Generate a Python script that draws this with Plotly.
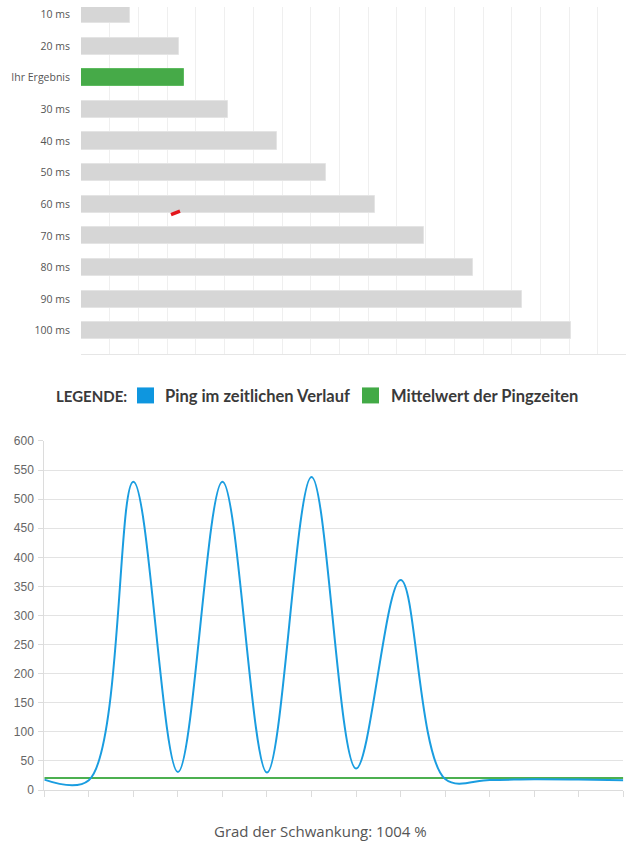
import plotly.graph_objects as go

# ---------------- data ----------------
bar_categories = ["10 ms", "20 ms", "Ihr Ergebnis", "30 ms", "40 ms", "50 ms",
                  "60 ms", "70 ms", "80 ms", "90 ms", "100 ms"]
bar_values = [10, 20, 21.1, 30, 40, 50, 60, 70, 80, 90, 100]
bar_highlight = "Ihr Ergebnis"

ping_x = list(range(14))
ping_values = [18, 17, 530, 31, 530, 30, 538, 37, 361, 19, 17.5, 18.5, 18, 17]
mean_value = 20.6
mean_values = [mean_value for _ in ping_x]
y_ticks = [0, 50, 100, 150, 200, 250, 300, 350, 400, 450, 500, 550, 600]

legend_title = "LEGENDE:"
legend_ping = "Ping im zeitlichen Verlauf"
legend_mean = "Mittelwert der Pingzeiten"
footer_text = "Grad der Schwankung: 1004 %"

# ---------------- helpers (page pixels -> paper) ----------------
W, H = 641, 853
Y_OFF, Y_SCALE = 5.9, 0.984   # empirical correction of the photographed page

def px(x):
    return x / W

def yint(y):
    return (y - Y_OFF) / Y_SCALE

def py(y):
    return 1 - yint(y) / H

BLUE = "#1a9de0"
GREEN = "#46aa48"

fig = go.Figure()

bar_colors = [GREEN if c == bar_highlight else "#d6d6d6" for c in bar_categories]
bar_lines = ["#5dbb5f" if c == bar_highlight else "#e4e4e4" for c in bar_categories]
fig.add_trace(go.Bar(
    y=bar_categories, x=bar_values, orientation="h",
    marker=dict(color=bar_colors, line=dict(color=bar_lines, width=1)),
    width=0.54, xaxis="x", yaxis="y", hoverinfo="skip", showlegend=False,
))

fig.add_trace(go.Scatter(
    x=ping_x, y=mean_values, mode="lines",
    line=dict(color="#4cb050", width=2),
    xaxis="x2", yaxis="y2", showlegend=False, name=legend_mean,
))
fig.add_trace(go.Scatter(
    x=ping_x, y=ping_values, mode="lines",
    line=dict(color=BLUE, width=2, shape="spline", smoothing=1.0),
    xaxis="x2", yaxis="y2", showlegend=False, name=legend_ping,
))

legend_font = dict(family="Lato, Liberation Sans, sans-serif", size=16.5, color="#3a3a3a")
legend_title_font = dict(family="Lato, Liberation Sans, sans-serif", size=15, color="#3a3a3a")

annotations = [
    dict(text="<b>" + legend_title + "</b>", x=px(54), y=py(395), xref="paper", yref="paper",
         xanchor="left", yanchor="middle", showarrow=False, font=legend_title_font),
    dict(text="<b>" + legend_ping + "</b>", x=px(163), y=py(395), xref="paper", yref="paper",
         xanchor="left", yanchor="middle", showarrow=False, font=legend_font),
    dict(text="<b>" + legend_mean + "</b>", x=px(389), y=py(395), xref="paper", yref="paper",
         xanchor="left", yanchor="middle", showarrow=False, font=legend_font),
    dict(text=footer_text, x=px(320), y=py(830), xref="paper", yref="paper",
         xanchor="center", yanchor="middle", showarrow=False,
         font=dict(family="Open Sans", size=15, color="#555555")),
]

shapes = [
    dict(type="rect", xref="paper", yref="paper", x0=px(137), x1=px(154), y0=py(402.5), y1=py(386.5),
         fillcolor="#0e96df", line=dict(width=0)),
    dict(type="rect", xref="paper", yref="paper", x0=px(362), x1=px(379), y0=py(402.5), y1=py(386.5),
         fillcolor="#42aa46", line=dict(width=0)),
    dict(type="line", xref="paper", yref="paper", x0=px(171), x1=px(180), y0=py(213.5), y1=py(210),
         line=dict(color="#e3161c", width=3.5)),
]

# top chart: category centres at 13.5 + k*31.62 px (reference), bottom line at 352.7 px
top_bottom = yint(352.7)
first_centre = yint(13.5)
band = yint(13.5 + 31.62) - first_centre
top_range = [(top_bottom - first_centre) / band, -first_centre / band]

fig.update_layout(
    width=W, height=H,
    margin=dict(l=0, r=0, t=0, b=0),
    paper_bgcolor="white", plot_bgcolor="white",
    showlegend=False,
    bargap=0,
    xaxis=dict(domain=[px(81), px(626)], range=[0, 111.2], tick0=0, dtick=5.86,
               showticklabels=False, ticks="", showgrid=True, gridcolor="#efefef",
               zeroline=False, showline=True, linecolor="#e6e6e6", anchor="y", fixedrange=True),
    yaxis=dict(domain=[1 - top_bottom / H, 1], type="category", range=top_range,
               showgrid=False, zeroline=False, showline=False, ticks="",
               ticklabelstandoff=10,
               tickfont=dict(family="Open Sans", size=10.5, color="#555555"),
               anchor="x", fixedrange=True),
    xaxis2=dict(domain=[px(44.3), px(623.3)], range=[0, 13], tickvals=ping_x,
                showticklabels=False, ticks="outside", ticklen=6, tickcolor="#dcdcdc",
                showgrid=False, zeroline=False, showline=True, linecolor="#dcdcdc",
                anchor="y2", fixedrange=True),
    yaxis2=dict(domain=[py(789.3), py(440)], range=[0, 600], tickvals=y_ticks,
                ticks="outside", ticklen=5, tickcolor="#dcdcdc",
                showgrid=True, gridcolor="#e3e3e3", zeroline=False,
                showline=True, linecolor="#dcdcdc", ticklabelstandoff=2,
                tickfont=dict(family="Liberation Sans, Arial, sans-serif", size=12, color="#666666"),
                anchor="x2", fixedrange=True),
    annotations=annotations,
    shapes=shapes,
)

reset_page = ("document.body.style.margin='0';"
              "document.body.style.overflow='hidden';"
              "document.documentElement.style.overflow='hidden';")

fig.write_html("out.html", post_script=reset_page, config={"displayModeBar": False})
